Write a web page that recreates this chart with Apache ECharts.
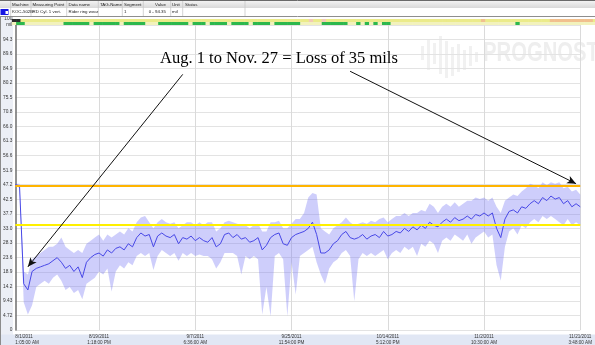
<!DOCTYPE html>
<html>
<head>
<meta charset="utf-8">
<script src="https://cdn.jsdelivr.net/npm/echarts@6.0.0/dist/echarts.min.js"></script>
<style>
html,body{margin:0;padding:0;background:#ffffff;overflow:hidden}
#chart{width:595px;height:345px}
</style>
</head>
<body>
<div id="chart"></div>
<script>
// ---- data ----
const meanValues = [47.2,46.8,15,13,19,20,20.5,21,21.5,22.5,23.5,22,20,21,19,20.5,17,22,23.5,24.5,
  25,24,26,25,26.5,27,26,28,27,30,31.5,30.5,31,27,30.5,31.5,30.5,30,31,28,
  30,29.5,30.5,29,30,29,28.5,30,27,28,31,31.5,30,31,29.5,30,28.5,29,30,26,
  27.5,30,31,31.5,28,27.5,30,31,31.5,32,33,35,31,25,25,26,28,29,31,32,
  30,29.5,30,31,29.5,30.5,31,30,32,30.5,31,32,31.5,33,32,33.5,32.5,34,33,35,
  34,33.5,35,36,35,36.5,35.5,36,37,36,37.5,37,38,37,38,33,30,36,38.5,39,
  38,40,39.5,41,42,41,43,42,43.5,42.5,43,41,42,40,41,40];
const highValues = [47.5,47.5,19,18,23,24,25,26,27,27,28,30,27,26,25,26,25,28,29,30,
  31,29,31,30,31,32,31,33,32,35,36.5,37,35,33,35,36,35,34.5,35,33,
  34,35,35,34,35,34,35,35,32,33,35,35.5,35,34.5,34,34,33,34,34.5,32,
  32,35,35,35.5,33,33,34.5,36,36,38,43,44.5,44,33,32,31,33,34,35,36.5,
  35,34,34.5,35,34.5,35.5,35,36,36.5,35,36,37,37,38,37,38,38,39,38.5,41,
  40,38,40,41,40,41.5,40,41,42,42,43,42.5,43,42,43,40,38,42,43,44,
  43.5,45,46,47.5,47,46,48,47,48,47.5,48,46,46.5,45,45.5,44];
const lowValues = [47,46,9,5,8,14,15,16,15,17,18,16,13,14,12,13,10,15,16,17,
  19,18,20,12.5,19,21,20,22,21,24,25,24,25,19.5,24,26,25,24,25,22.5,
  25,24,25,24,24.5,24,24,23,20,22,25,25,25,24,18,24,23,24,23,5,
  14,4.5,24,25,23,4.5,22,11.5,24,25,26,27,22,18,15,20,22,23,25,26,
  24,9.3,23,25,24,25,24,25,26,23,25,26,25,27,26,27,24,28,27,29,
  28,25,29,30,29,31,30,29,31,28,30,31,32,30,31,21,16,27,32,33,
  31,34,33,35,36,35,37,36,37,36,35,34,36,34,35,34];
const categories = meanValues.map((v, i) => String(i));

const xTickIndex = [0, 20, 43, 66, 89, 112, 135];
const xTickDates = ['8/1/2011','8/19/2011','9/7/2011','9/25/2011','10/14/2011','11/2/2011','11/21/2011'];
const xTickTimes = ['1:05:00 AM','1:18:00 PM','6:36:00 AM','11:54:00 PM','5:12:00 PM','10:30:00 AM','3:48:00 AM'];
const yTickLabels = ['0','4.72','9.43','14.2','18.9','23.6','28.3','33.0','37.7','42.5','47.2',
  '51.9','56.6','61.3','66.0','70.8','75.5','80.2','84.9','89.6','94.3',''];
const yTopLabel = '100\nmil';

const orangeLimit = 46.8;
const yellowLimit = 34.3;

// status strip codes per category (k dark, y yellow, p pink, o orange, g green, w pale)
const statusTop =    'kk' + 'y'.repeat(67) + 'p' + 'yy' + 'p' + 'y'.repeat(36) + 'o' + 'y'.repeat(15) + 'o'.repeat(10) + 'y';
const statusBottom = 'wgg' + 'w'.repeat(9) + 'gggggg' + 'w' + 'gggggg' + 'w' + 'ggggg' + 'www' + 'ggggggg' + 'w' + 'ggg' + 'w' + 'gggg' + 'w' + 'gggg' + 'w' + 'gggg' + 'w' + 'gggggg' + 'wwwww' + 'gggggg' + 'ww' + 'gwgwgwgg' + 'w'.repeat(29) + 'g' + 'w'.repeat(18);

const headerColumns = ['Machine','Measuring Point','Data name','TAG-Name','Segment','Value','Unit','Status'];
const headerValues = ['KOC-502B','RD Cyl. 1 vert.','Rider ring wear','','1','0 - 94.35','mil',''];
const annotationText = 'Aug. 1 to Nov. 27 = Loss of 35 mils';
const watermarkText = 'PROGNOST';

// ---- chart ----
const F = '"Liberation Sans", Arial, sans-serif';
const yStep = 100 / 21.2;
const statusColors = {k:'#2b2b2b', y:'#ebeb8a', p:'#f3c9b6', o:'#f1c08e', g:'#2db84d', w:'#f2f2bc'};

const colX = [12, 32.5, 68.5, 100, 124, 166, 172, 185];
const colAlign = ['left','left','left','left','left','right','left','left'];
const sepX = [10.7, 31, 66.7, 98.3, 122.3, 143.3, 170.7, 182.7, 245];

const graphics = [];
// label area backgrounds
graphics.push({type:'rect', shape:{x:0, y:17, width:13, height:328}, style:{fill:'#eceff6'}, z:-1, silent:true});
graphics.push({type:'rect', shape:{x:0, y:334.5, width:595, height:11}, style:{fill:'#e1e7f4'}, z:-1, silent:true});
graphics.push({type:'line', shape:{x1:0.5, y1:17, x2:0.5, y2:345}, style:{stroke:'#8c8c8c', lineWidth:1}, z:-1, silent:true});
// header
graphics.push({type:'rect', shape:{x:0, y:0, width:595, height:8}, style:{fill:{type:'linear', x:0, y:0, x2:0, y2:1, colorStops:[{offset:0,color:'#f6f6f6'},{offset:1,color:'#d9d9d9'}]}}, z:5, silent:true});
graphics.push({type:'line', shape:{x1:0, y1:0.5, x2:595, y2:0.5}, style:{stroke:'#6a6a6a', lineWidth:1}, z:6, silent:true});
graphics.push({type:'line', shape:{x1:0, y1:16.5, x2:595, y2:16.5}, style:{stroke:'#8e8e8e', lineWidth:1}, z:6, silent:true});
sepX.forEach(x => graphics.push({type:'line', shape:{x1:x, y1:1, x2:x, y2:16}, style:{stroke:'#c8c8c8', lineWidth:0.8}, z:6, silent:true}));
graphics.push({type:'rect', shape:{x:0.5, y:9, width:8, height:6}, style:{fill:'#1717e3'}, z:6, silent:true});
graphics.push({type:'rect', shape:{x:5.5, y:11, width:2.5, height:3}, style:{fill:'#ffffff'}, z:7, silent:true});
headerColumns.forEach((t, k) => graphics.push({type:'text', x:colX[k], y:4.3, style:{text:t, font:'4.4px ' + F, fill:'#222', align:colAlign[k], verticalAlign:'middle'}, z:7, silent:true}));
headerValues.forEach((t, k) => graphics.push({type:'text', x:colX[k], y:11.6, style:{text:t, font:'4.4px ' + F, fill:'#222', align:colAlign[k], verticalAlign:'middle'}, z:7, silent:true}));
// watermark
[[421,46,60],[427,40,70],[433,43,64],[439,36,74],[445,41,78],[451,47,76],[457,44,72],[463,50,70],[469,46,66],[475,52,62]].forEach(b =>
  graphics.push({type:'rect', shape:{x:b[0], y:b[1], width:3, height:b[2]-b[1]}, style:{fill:'#f1f1f1'}, z:-1, silent:true}));
graphics.push({type:'text', x:483, y:54, scaleX:0.75, style:{text:watermarkText, font:'bold 27px "Liberation Sans", Arial, sans-serif', fill:'#eeeeee', align:'left', verticalAlign:'middle'}, z:-1, silent:true});
// annotation text
graphics.push({type:'text', x:160, y:59, style:{text:annotationText, font:'16.5px "Liberation Serif", "Times New Roman", serif', fill:'#000', align:'left', verticalAlign:'middle'}, z:100, silent:true});

const option = {
  animation: false,
  backgroundColor: '#ffffff',
  grid: [
    {left:14, right:0, top:22, bottom:11},
    {left:14, right:0, top:19, height:6}
  ],
  xAxis: [
    {type:'category', gridIndex:0, data:categories, boundaryGap:false,
     axisLine:{show:false}, axisTick:{show:false},
     splitLine:{show:true, interval:(i) => xTickIndex.indexOf(i) > 0, lineStyle:{color:'#dadada', width:1}},
     axisLabel:{interval:(i) => xTickIndex.indexOf(i) >= 0,
       formatter:(v, i) => { const k = xTickIndex.indexOf(i); return k >= 0 ? xTickDates[k] + '\n' + xTickTimes[k] : ''; },
       fontSize:4.6, lineHeight:5.5, color:'#333', margin:4, fontFamily:F, alignMinLabel:'left'}},
    {type:'category', gridIndex:1, data:categories, boundaryGap:false, show:false}
  ],
  yAxis: [
    {type:'value', gridIndex:0, min:0, max:100, interval:yStep,
     axisLine:{show:true, lineStyle:{color:'#6e6e6e', width:1.5}}, axisTick:{show:false},
     splitLine:{show:true, lineStyle:{color:'#e3e3e3', width:1}},
     axisLabel:{fontSize:4.8, lineHeight:6, color:'#333', margin:3, fontFamily:F,
       formatter:(v) => v >= 99.9 ? yTopLabel : (yTickLabels[Math.round(v / yStep)] || '')}},
    {type:'value', gridIndex:1, min:0, max:2, show:false}
  ],
  graphic: {elements: graphics},
  series: [
    {type:'line', name:'low', xAxisIndex:0, yAxisIndex:0, data:lowValues, stack:'band', symbol:'none',
     lineStyle:{opacity:0, width:0}, silent:true, z:1},
    {type:'line', name:'range', xAxisIndex:0, yAxisIndex:0, data:highValues.map((h, i) => +(h - lowValues[i]).toFixed(2)), stack:'band', symbol:'none',
     lineStyle:{opacity:0, width:0}, areaStyle:{color:'rgba(125,125,245,0.38)', opacity:1}, silent:true, z:1},
    {type:'line', name:'mean', xAxisIndex:0, yAxisIndex:0, data:meanValues, symbol:'none',
     lineStyle:{color:'#4848e6', width:1}, silent:true, z:3,
     markLine:{silent:true, symbol:['none','none'], label:{show:false}, animation:false,
       data:[
         {yAxis:orangeLimit, lineStyle:{color:'#ffb400', width:2, type:'solid'}},
         {yAxis:yellowLimit, lineStyle:{color:'#fff000', width:2, type:'solid'}},
         [{coord:[categories[40], 83.0], symbol:'none', lineStyle:{color:'#111', width:1, type:'solid'}},
          {coord:[categories[3], 20.5], symbol:'arrow', symbolSize:[6, 9]}],
         [{coord:[categories[80], 84.0], symbol:'none', lineStyle:{color:'#111', width:1, type:'solid'}},
          {coord:[categories[134], 47.5], symbol:'arrow', symbolSize:[6, 9]}]
       ]}},
    {type:'custom', name:'status', xAxisIndex:1, yAxisIndex:1, data:categories.map((c, i) => [i]), silent:true, z:4,
     renderItem:(params, api) => {
       const i = api.value(0);
       const top = api.coord([i, 2]), mid = api.coord([i, 1]), bot = api.coord([i, 0]);
       const w = api.size([1, 0])[0];
       return {type:'group', children:[
         {type:'rect', shape:{x:top[0] - w / 2, y:top[1], width:w + 0.6, height:mid[1] - top[1]}, style:{fill:statusColors[statusTop[i]]}},
         {type:'rect', shape:{x:mid[0] - w / 2, y:mid[1], width:w + 0.6, height:bot[1] - mid[1]}, style:{fill:statusColors[statusBottom[i]]}}
       ]};
     }}
  ]
};

const chart = echarts.init(document.getElementById('chart'), null, {renderer:'canvas'});
chart.setOption(option);
</script>
</body>
</html>
